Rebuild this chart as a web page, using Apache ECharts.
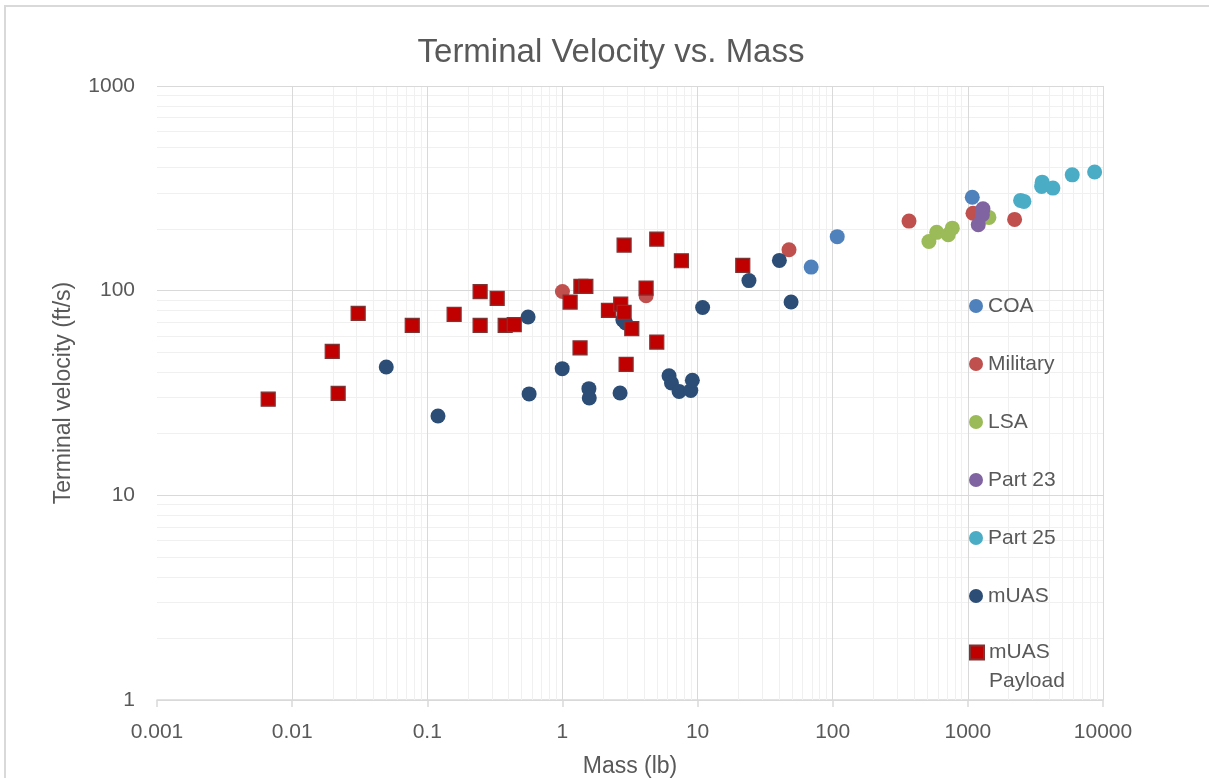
<!DOCTYPE html>
<html>
<head>
<meta charset="utf-8">
<script src="https://cdn.jsdelivr.net/npm/echarts@6/dist/echarts.min.js"></script>
<style>html,body{margin:0;padding:0;background:#fff;}#c{width:1209px;height:778px;}</style>
</head>
<body>
<div id="c"></div>
<script>
// ---- data (mass in lb, terminal velocity in ft/s) ----
const coa = [[69.3,130.4],[108,183.6],[1078,286]];
const military = [[1.0,99],[4.16,94.5],[47.5,158.5],[367,218.7],[1091,239],[2218,223]];
const lsa = [[515,174],[588,192.7],[716,187.6],[767,202],[1432,228]];
const part23 = [[1194,210],[1280,235],[1294,251]];
const part25 = [[2456,276],[2600,273],[3515,323],[3548,339],[4260,317],[5920,368],[8670,380]];
const muas = [[0.0497,42.4],[0.12,24.4],[0.557,74.3],[0.567,31.3],[0.996,41.6],[1.57,33.2],[1.58,29.9],
  [2.67,31.6],[2.8,72],[2.94,69.5],[6.15,38.4],[6.41,35.4],[7.30,32.2],[8.91,32.5],[9.15,36.5],
  [10.9,82.8],[24.0,112],[40.3,140.6],[49.2,88]];
const muasPayload = [[0.00665,29.5],[0.0198,50.5],[0.0219,31.5],[0.0308,77.4],[0.0774,67.7],[0.158,76.6],
  [0.246,99],[0.246,67.7],[0.329,91.7],[0.377,67.7],[0.44,68.3],[1.14,88],[1.35,52.5],[1.37,105],
  [1.49,105],[2.19,80.1],[2.70,86],[2.86,78.3],[3.26,65.2],[2.96,43.6],[2.86,167],[4.99,178.7],
  [4.16,103],[4.99,56.1],[7.59,140],[21.6,133]];

const xTicks = [0.001,0.01,0.1,1,10,100,1000,10000];
const xTickLabels = ['0.001','0.01','0.1','1','10','100','1000','10000'];
const yTicks = [1,10,100,1000];
const yTickLabels = ['1','10','100','1000'];
const minorSteps = [2,3,4,5,6,7,8,9];

// gridline positions (axis values, mapped by the library)
const xMinor = [], yMinor = [];
xTicks.slice(0,-1).forEach(d => minorSteps.forEach(k => xMinor.push(+(d*k).toPrecision(3))));
yTicks.slice(0,-1).forEach(d => minorSteps.forEach(k => yMinor.push(+(d*k).toPrecision(3))));

const FONT = 'Liberation Sans, Arial, sans-serif';
const TXT = '#595959';
const chart = echarts.init(document.getElementById('c'));

function circleSeries(name, data, color) {
  return {name, type:'scatter', data, symbol:'circle', symbolSize:15, z:3,
    itemStyle:{color, opacity:1}};
}
const gridLine = (xs, ys, color, z) => ({
  type:'scatter', data:[], silent:true, z:z,
  markLine:{silent:true, z:z, symbol:['none','none'], animation:false,
    label:{show:false}, lineStyle:{color, type:'solid', width:1},
    emphasis:{disabled:true},
    data: xs.map(v=>({xAxis:v})).concat(ys.map(v=>({yAxis:v})))}
});
const legendText = {fontFamily:FONT, fontSize:21, color:TXT, lineHeight:22};

chart.setOption({
  animation:false,
  backgroundColor:'#fff',
  textStyle:{fontFamily:FONT},
  graphic:[{type:'rect', shape:{x:5,y:6,width:1300,height:900},
    style:{fill:'none', stroke:'#d9d9d9', lineWidth:2}, silent:true, z:-1}],
  title:{text:'Terminal Velocity vs. Mass', left:606, textAlign:'center', top:31,
    textStyle:{fontFamily:FONT, fontSize:33, fontWeight:'normal', color:TXT}},
  grid:{left:157, right:106, top:86, bottom:78, containLabel:false, outerBoundsMode:'none'},
  xAxis:{type:'log', logBase:10, min:0.001, max:10000,
    name:'Mass (lb)', nameLocation:'middle', nameGap:55,
    nameTextStyle:{fontFamily:FONT, fontSize:23, color:TXT},
    axisLine:{show:true, onZero:false, lineStyle:{color:'#d9d9d9', width:1.5}},
    axisTick:{show:true, length:7, lineStyle:{color:'#d9d9d9', width:1.5}},
    axisLabel:{fontFamily:FONT, fontSize:21, color:TXT, margin:22,
      formatter:(v,i)=>xTickLabels[i]},
    splitLine:{show:false}},
  yAxis:{type:'log', logBase:10, min:1, max:1000,
    name:'Terminal velocity (ft/s)', nameLocation:'middle', nameGap:82, nameRotate:90,
    nameTextStyle:{fontFamily:FONT, fontSize:23, color:TXT},
    axisLine:{show:false}, axisTick:{show:false},
    axisLabel:{fontFamily:FONT, fontSize:21, color:TXT, margin:22,
      formatter:(v,i)=>yTickLabels[i]},
    splitLine:{show:false}},
  legend:[
    {orient:'vertical', left:969, top:295, padding:0, itemWidth:14, itemHeight:14, itemGap:36,
      textStyle:legendText,
      data:['COA','Military','LSA','Part 23','Part 25','mUAS']},
    {orient:'vertical', left:969, top:609, padding:0, itemWidth:14, itemHeight:14,
      textStyle:Object.assign({}, legendText, {lineHeight:29}),
      data:['mUAS Payload'],
      formatter:n => '\n' + n.replace(' ', '\n')}
  ],
  series:[
    gridLine(xMinor, yMinor, '#f0f0f0', 1),
    gridLine(xTicks, yTicks, '#d9d9d9', 2),
    circleSeries('COA', coa, '#4F81BD'),
    circleSeries('Military', military, '#C0504D'),
    circleSeries('LSA', lsa, '#9BBB59'),
    circleSeries('Part 23', part23, '#8064A2'),
    circleSeries('Part 25', part25, '#4BACC6'),
    circleSeries('mUAS', muas, '#2C4D75'),
    {name:'mUAS Payload', type:'scatter', data:muasPayload, symbol:'rect', symbolSize:14, z:3,
      itemStyle:{color:'#C00000', borderColor:'#7F3434', borderWidth:1.2, opacity:1}}
  ]
});
</script>
</body>
</html>
